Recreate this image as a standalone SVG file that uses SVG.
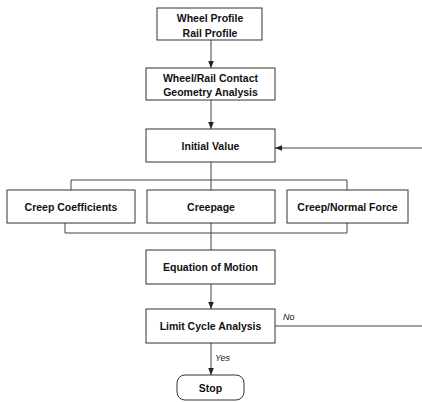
<svg xmlns="http://www.w3.org/2000/svg" width="422" height="402" viewBox="0 0 422 402">
<defs>
<marker id="ah" viewBox="0 0 10 10" refX="10" refY="5" markerWidth="7" markerHeight="7" orient="auto" markerUnits="userSpaceOnUse">
<path d="M0,1 L10,5 L0,9 Z" fill="#222"/>
</marker>
</defs>
<style>
.box{fill:#fff;stroke:#333;stroke-width:1}
.t{font-family:"Liberation Sans",Arial,sans-serif;font-size:10.5px;font-weight:bold;fill:#111;text-anchor:middle}
.lbl{font-family:"Liberation Sans",Arial,sans-serif;font-size:9px;font-style:italic;fill:#111}
.c{fill:none;stroke:#444;stroke-width:1}
</style>
<rect width="422" height="402" fill="#fff"/>
<g id="connectors">
<line class="c" x1="211" y1="40" x2="211" y2="68" marker-end="url(#ah)"/>
<line class="c" x1="211" y1="100" x2="211" y2="129" marker-end="url(#ah)"/>
<line class="c" x1="422" y1="148" x2="275" y2="148" marker-end="url(#ah)"/>
<polyline class="c" points="211,162 211,180"/>
<polyline class="c" points="71,190 71,180 347,180 347,190"/>
<polyline class="c" points="211,180 211,190"/>
<polyline class="c" points="65,223 65,233 347,233 347,223"/>
<polyline class="c" points="211,223 211,250"/>
<line class="c" x1="211" y1="284" x2="211" y2="309" marker-end="url(#ah)"/>
<line class="c" x1="275" y1="326" x2="422" y2="326"/>
<line class="c" x1="211" y1="343" x2="211" y2="375" marker-end="url(#ah)"/>
<text class="lbl" x="283" y="320">No</text>
<text class="lbl" x="215" y="361">Yes</text>
</g>
<g id="profile">
<rect class="box" x="157" y="8" width="105" height="32"/>
<text class="t" x="210" y="22">Wheel Profile</text>
<text class="t" x="210" y="37">Rail Profile</text>
</g>
<g id="geometry">
<rect class="box" x="146" y="68" width="129" height="32"/>
<text class="t" x="210.5" y="82">Wheel/Rail Contact</text>
<text class="t" x="210.5" y="96">Geometry Analysis</text>
</g>
<g id="initial">
<rect class="box" x="146" y="129" width="129" height="33"/>
<text class="t" x="210.5" y="149.5">Initial Value</text>
</g>
<g id="coefficients">
<rect class="box" x="7" y="190" width="128" height="33"/>
<text class="t" x="71" y="210.5">Creep Coefficients</text>
</g>
<g id="creepage">
<rect class="box" x="147" y="190" width="128" height="33"/>
<text class="t" x="211" y="210.5">Creepage</text>
</g>
<g id="force">
<rect class="box" x="287" y="190" width="121" height="33"/>
<text class="t" x="347.5" y="210.5">Creep/Normal Force</text>
</g>
<g id="motion">
<rect class="box" x="146" y="250" width="129" height="34"/>
<text class="t" x="210.5" y="271">Equation of Motion</text>
</g>
<g id="limit">
<rect class="box" x="146" y="309" width="129" height="34"/>
<text class="t" x="210.5" y="330">Limit Cycle Analysis</text>
</g>
<g id="stop">
<rect class="box" x="177" y="375" width="67" height="25" rx="8" ry="8"/>
<text class="t" x="210.5" y="392">Stop</text>
</g>
</svg>
